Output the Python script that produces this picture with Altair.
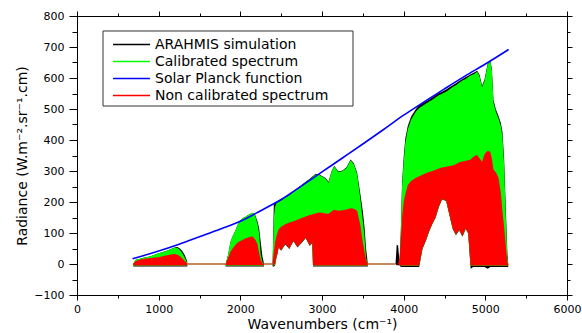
import altair as alt
import pandas as pd

# ---------------- data ----------------
series_names = ["ARAHMIS simulation", "Calibrated spectrum",
                "Solar Planck function", " Non calibrated spectrum"]
series_colors = ["#000000", "#00ff00", "#0000ff", "#ff0000"]

# Solar Planck function (blue)
planck_wn = [680, 800, 1000, 1250, 1500, 1750, 2000, 2250, 2500, 2750, 3000,
             3250, 3500, 3750, 4000, 4250, 4500, 4750, 5000, 5285]
planck_val = [17, 26, 42, 64, 88, 112, 138, 172, 208, 252, 297,
              342, 387, 433, 480, 523, 565, 606, 645, 692]

# Band A
wnA = [690, 720, 760, 800, 850, 900, 950, 1000, 1050, 1100, 1150, 1200, 1230, 1260, 1290, 1320, 1350]
blackA_hi = [2, 14, 16, 19, 22, 25, 30, 35, 39, 43, 48, 54, 55, 50, 42, 28, 8]
blackA_lo = [-8, -8, -8, -8, -8, -8, -8, -8, -8, -8, -8, -8, -8, -8, -8, -8, -8]
greenA_hi = [2, 14, 16, 19, 22, 25, 30, 35, 39, 43, 48, 53, 52, 46, 35, 20, 3]
greenA_lo = [-6, -6, -6, -6, -6, -6, -6, -6, -6, -6, -6, -6, -6, -6, -6, -6, -6]
redA_hi = [2, 10, 13, 16, 18, 19, 21, 22, 25, 28, 31, 32, 30, 26, 18, 10, 2]
redA_lo = [-5, -5, -5, -5, -5, -5, -5, -5, -5, -5, -5, -5, -5, -5, -5, -5, -5]

# Band B
wnB = [1820, 1850, 1880, 1910, 1940, 1970, 2000, 2030, 2060, 2090, 2120, 2150, 2180, 2210, 2230, 2250, 2270, 2290]
blackB_hi = [0, 30, 72, 92, 108, 128, 140, 148, 152, 157, 161, 165, 160, 138, 115, 70, 25, 2]
blackB_lo = [-8, -8, -8, -8, -8, -8, -8, -8, -8, -8, -8, -8, -8, -8, -8, -8, -8, -8]
greenB_hi = [0, 30, 72, 92, 108, 128, 140, 148, 152, 157, 161, 165, 158, 130, 100, 30, 8, 0]
greenB_lo = [-6, -6, -6, -6, -6, -6, -6, -6, -6, -6, -6, -6, -6, -6, -6, -6, -6, -6]
redB_hi = [0, 20, 40, 52, 62, 70, 74, 78, 82, 85, 88, 89, 80, 65, 35, 14, 3, 0]
redB_lo = [-4, -4, -4, -4, -4, -4, -4, -4, -4, -4, -4, -4, -4, -4, -4, -4, -4, -4]

# Band C
wnC = [2395, 2410, 2425, 2440, 2455, 2470, 2500, 2550, 2600, 2650, 2700, 2750, 2800, 2850, 2880,
       2890, 2920, 2960, 3000, 3040, 3080, 3120, 3150, 3200, 3250, 3300, 3350, 3390, 3430, 3470,
       3500, 3520, 3540, 3560]
blackC_hi = [5, 190, 198, 200, 202, 204, 207, 216, 224, 234, 245, 255, 265, 275, 282,
             284, 290, 290, 284, 278, 265, 302, 317, 298, 302, 312, 337, 325, 295, 225,
             170, 120, 50, 3]
blackC_lo = [-8, -8, -6, 18, 33, 53, 43, 63, 48, 73, 53, 68, 83, 58, 68,
             -8, -8, -8, -8, -8, -8, -8, -8, -8, -8, -8, -8, -8, -8, -8,
             -8, -8, -8, -8]
greenC_hi = [0, 150, 185, 195, 198, 200, 205, 214, 222, 232, 243, 253, 263, 273, 280,
             282, 288, 288, 282, 276, 262, 300, 315, 296, 300, 310, 335, 322, 290, 210,
             140, 90, 20, 0]
greenC_lo = [-5, -5, -3, 20, 35, 55, 45, 65, 50, 75, 55, 70, 85, 60, 70,
             -6, -6, -6, -6, -6, -6, -6, -6, -6, -6, -6, -6, -6, -6, -6,
             -6, -6, -6, -6]
redC_hi = [0, 40, 70, 88, 102, 112, 120, 128, 134, 138, 143, 148, 153, 158, 160,
           161, 163, 166, 165, 163, 162, 170, 175, 172, 173, 176, 180, 178, 172, 125,
           70, 40, 12, 0]
redC_lo = [-3, -3, 0, 20, 35, 55, 45, 65, 50, 75, 55, 70, 85, 60, 70,
           -5, -5, -5, -5, -5, -5, -5, -5, -5, -5, -5, -5, -5, -5, -5,
           -5, -5, -5, -5]

# Band D
wnD = [3900, 3915, 3932, 3950, 3965, 3980, 4000, 4020, 4050, 4090,
       4150, 4190, 4230, 4270, 4310, 4350, 4390, 4430, 4470, 4520,
       4560, 4600, 4640, 4680, 4720, 4760, 4790, 4820, 4850, 4880,
       4900, 4930, 4960, 4990, 5030, 5060, 5080, 5100, 5130, 5160,
       5190, 5210, 5230, 5250, 5270, 5280]
blackD_hi = [0, 62, 60, 5, 110, 260, 345, 405, 445, 475,
             500, 512, 518, 524, 530, 537, 544, 551, 556, 563,
             570, 577, 583, 590, 597, 603, 607, 612, 616, 620,
             623, 610, 575, 595, 648, 657, 630, 528, 498, 478,
             455, 425, 340, 185, 35, 2]
blackD_lo = [0, -4, -4, -4, -10, -10, -10, -10, -10, -10,
             -10, -10, 48, 73, 103, 128, 148, 183, 208, 203,
             158, 113, 93, 108, 88, 113, 98, -15, -10, -10,
             -10, -10, -10, -10, -15, -10, -10, -10, -10, -10,
             -10, -10, -10, -10, -10, -10]
greenD_hi = [0, 0, 0, 0, 100, 250, 330, 390, 435, 465,
             492, 503, 510, 517, 523, 530, 537, 544, 549, 556,
             563, 571, 577, 585, 592, 597, 603, 608, 611, 616,
             620, 605, 570, 590, 645, 655, 625, 520, 490, 470,
             445, 410, 320, 160, 20, 0]
greenD_lo = [0, 0, 0, 0, -6, -6, -6, -6, -6, -6,
             -6, -6, 50, 75, 105, 130, 150, 185, 210, 205,
             160, 115, 95, 110, 90, 115, 100, -6, -6, -6,
             -6, -6, -6, -6, -6, -6, -6, -6, -6, -6,
             -6, -6, -6, -6, -6, -6]
redD_hi = [0, 0, 0, 20, 80, 150, 200, 225, 255, 268,
           278, 283, 288, 293, 297, 300, 304, 308, 311, 314,
           316, 318, 322, 328, 331, 333, 335, 337, 345, 350,
           352, 340, 330, 355, 365, 362, 340, 305, 295, 280,
           230, 170, 120, 60, 5, 0]
redD_lo = [0, 0, 0, -5, -5, -5, -5, -5, -5, -5,
           -5, -5, 50, 75, 105, 130, 150, 185, 210, 205,
           160, 115, 95, 110, 90, 115, 100, -5, -5, -5,
           -5, -5, -5, -5, -5, -5, -5, -5, -5, -5,
           -5, -5, -5, -5, -5, -5]

# flat zero-signal stretches between the bands
gap_start = [1350, 2290, 3560]
gap_end = [1820, 2395, 3900]
gap_level = [0, 0, 0]

# ---------------- tables ----------------
def band(name, wn, bh, bl, gh, gl, rh, rl):
    return pd.DataFrame({"band": name, "wn": wn, "black_hi": bh, "black_lo": bl,
                         "green_hi": gh, "green_lo": gl, "red_hi": rh, "red_lo": rl})

spec = pd.concat([
    band("A", wnA, blackA_hi, blackA_lo, greenA_hi, greenA_lo, redA_hi, redA_lo),
    band("B", wnB, blackB_hi, blackB_lo, greenB_hi, greenB_lo, redB_hi, redB_lo),
    band("C", wnC, blackC_hi, blackC_lo, greenC_hi, greenC_lo, redC_hi, redC_lo),
    band("D", wnD, blackD_hi, blackD_lo, greenD_hi, greenD_lo, redD_hi, redD_lo),
], ignore_index=True)
planck = pd.DataFrame({"wn": planck_wn, "rad": planck_val})
gaps = pd.DataFrame({"x0": gap_start, "x1": gap_end, "y": gap_level})
legend_df = pd.DataFrame({"name": series_names})

FONT = "DejaVu Sans"
xscale = alt.Scale(domain=[0, 6000], nice=False, zero=False)
yscale = alt.Scale(domain=[-100, 800], nice=False, zero=False)

x_bottom = alt.Axis(
    orient="bottom", values=list(range(0, 6001, 500)), format="d",
    labelExpr="datum.value % 1000 === 0 ? datum.label : ''",
    tickSize={"condition": {"test": "datum.value % 1000 === 0", "value": 5}, "value": 3},
    title="Wavenumbers (cm⁻¹)", titleFont=FONT, titleFontSize=14, titleFontWeight="normal",
    titleColor="black", titlePadding=3, labelFont=FONT, labelFontSize=11, labelColor="black",
    labelPadding=3, domainColor="black", tickColor="black", grid=False, labelFlush=False,
    labelOverlap=False)
y_left = alt.Axis(
    orient="left", values=list(range(-100, 801, 50)), format="d",
    labelExpr="datum.value % 100 === 0 ? datum.label : ''",
    tickSize={"condition": {"test": "datum.value % 100 === 0", "value": 8}, "value": 5},
    title="Radiance (W.m⁻².sr⁻¹.cm)", titleFont=FONT, titleFontSize=14,
    titleFontWeight="normal", titleColor="black", titlePadding=4,
    labelFont=FONT, labelFontSize=11, labelColor="black", labelPadding=5,
    domainColor="black", tickColor="black", grid=False, labelFlush=False, labelOverlap=False)
x_top = alt.Axis(
    orient="top", values=list(range(0, 6001, 500)), labels=False, title=None,
    tickSize={"condition": {"test": "datum.value % 1000 === 0", "value": 5}, "value": 3},
    domainColor="black", tickColor="black", grid=False)
y_right = alt.Axis(
    orient="right", values=list(range(-100, 801, 50)), labels=False, title=None,
    tickSize={"condition": {"test": "datum.value % 100 === 0", "value": 5}, "value": 3},
    domainColor="black", tickColor="black", grid=False)

base = alt.Chart(spec)
black = base.mark_area(color=series_colors[0], opacity=1).encode(
    x=alt.X("wn:Q", scale=xscale, axis=x_bottom),
    y=alt.Y("black_hi:Q", scale=yscale, axis=y_left),
    y2="black_lo:Q", detail="band:N")
green = base.mark_area(color=series_colors[1], opacity=1).encode(
    x=alt.X("wn:Q", scale=xscale, axis=None),
    y=alt.Y("green_hi:Q", scale=yscale, axis=None),
    y2="green_lo:Q", detail="band:N")
red = base.mark_area(color=series_colors[3], opacity=1).encode(
    x=alt.X("wn:Q", scale=xscale, axis=None),
    y=alt.Y("red_hi:Q", scale=yscale, axis=None),
    y2="red_lo:Q", detail="band:N")
zero = alt.Chart(gaps).mark_rule(color="#b0652a", strokeWidth=1.5).encode(
    x=alt.X("x0:Q", scale=xscale, axis=None), x2="x1:Q",
    y=alt.Y("y:Q", scale=yscale, axis=None))
blue = alt.Chart(planck).mark_line(strokeWidth=1.6, interpolate="monotone",
                                   color=series_colors[2]).encode(
    x=alt.X("wn:Q", scale=xscale, axis=x_top),
    y=alt.Y("rad:Q", scale=yscale, axis=y_right))

# legend box (drawn from the series list through a point scale)
legend_y = alt.Scale(type="point", domain=series_names, range=[28.5, 79.5], padding=0)
legend_color = alt.Scale(domain=series_names, range=series_colors)
box = alt.Chart(pd.DataFrame({"k": [0]})).mark_rect(
    fill="white", stroke="#333333", strokeWidth=1).encode(
    x=alt.value(26), x2=alt.value(276), y=alt.value(15), y2=alt.value(90))
leg_lines = alt.Chart(legend_df).mark_tick(
    orient="horizontal", size=37, thickness=1.5, opacity=1).encode(
    x=alt.value(54.5),
    y=alt.Y("name:N", scale=legend_y, axis=None),
    color=alt.Color("name:N", scale=legend_color, legend=None))
leg_text = alt.Chart(legend_df).mark_text(
    align="left", baseline="middle", font=FONT, fontSize=14, color="black").encode(
    x=alt.value(78), y=alt.Y("name:N", scale=legend_y, axis=None), text="name:N")

chart = alt.layer(black, green, red, zero, blue, box, leg_lines, leg_text).resolve_scale(
    y="independent"
).resolve_axis(
    x="independent", y="independent"
).properties(
    width=490, height=279, autosize="none",
    padding={"left": 77, "top": 16, "right": 15, "bottom": 38},
).configure_view(stroke=None).configure(background="white")

chart.save("out.html", embed_options={"renderer": "svg", "actions": False})
